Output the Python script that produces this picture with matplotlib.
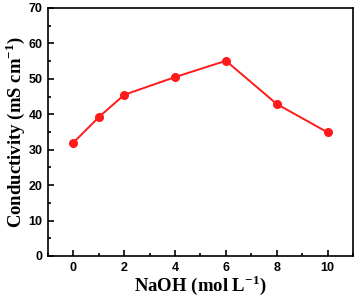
import matplotlib
matplotlib.use('Agg')
import matplotlib.pyplot as plt
from matplotlib.ticker import MultipleLocator

plt.rcParams['mathtext.fontset'] = 'custom'
plt.rcParams['mathtext.bf'] = 'Liberation Serif:bold'
plt.rcParams['mathtext.rm'] = 'Liberation Serif:bold'

# data
naoh = [0, 1, 2, 4, 6, 8, 10]
conductivity = [32.0, 39.2, 45.5, 50.5, 55.1, 42.9, 34.9]

fig = plt.figure(figsize=(3.56, 3.0), dpi=100)
ax = fig.add_axes([48/356, 44/300, 305/356, 248/300])

ax.plot(naoh, conductivity, color='#ff1a1a', lw=1.4, marker='o', ms=5.5)

ax.set_xlim(-1, 11)
ax.set_ylim(0, 70)
ax.xaxis.set_major_locator(MultipleLocator(2))
ax.xaxis.set_minor_locator(MultipleLocator(1))
ax.yaxis.set_major_locator(MultipleLocator(10))
ax.yaxis.set_minor_locator(MultipleLocator(5))
ax.tick_params(which='both', direction='in', width=1.2)
ax.tick_params(which='major', length=4, labelsize=9, pad=4)
ax.tick_params(which='minor', length=2.5)
for lab in ax.get_xticklabels() + ax.get_yticklabels():
    lab.set_fontweight('bold')
    lab.set_family('Liberation Sans')
for s in ax.spines.values():
    s.set_linewidth(1.2)

ax.set_xlabel('NaOH (mol L$^{-1}$)', family='Liberation Serif', fontweight='bold', fontsize=13.5, labelpad=0)
ax.set_ylabel('Conductivity (mS cm$^{-1}$)', family='Liberation Serif', fontweight='bold', fontsize=13.5, labelpad=1)

fig.savefig('out.png', dpi=100)
